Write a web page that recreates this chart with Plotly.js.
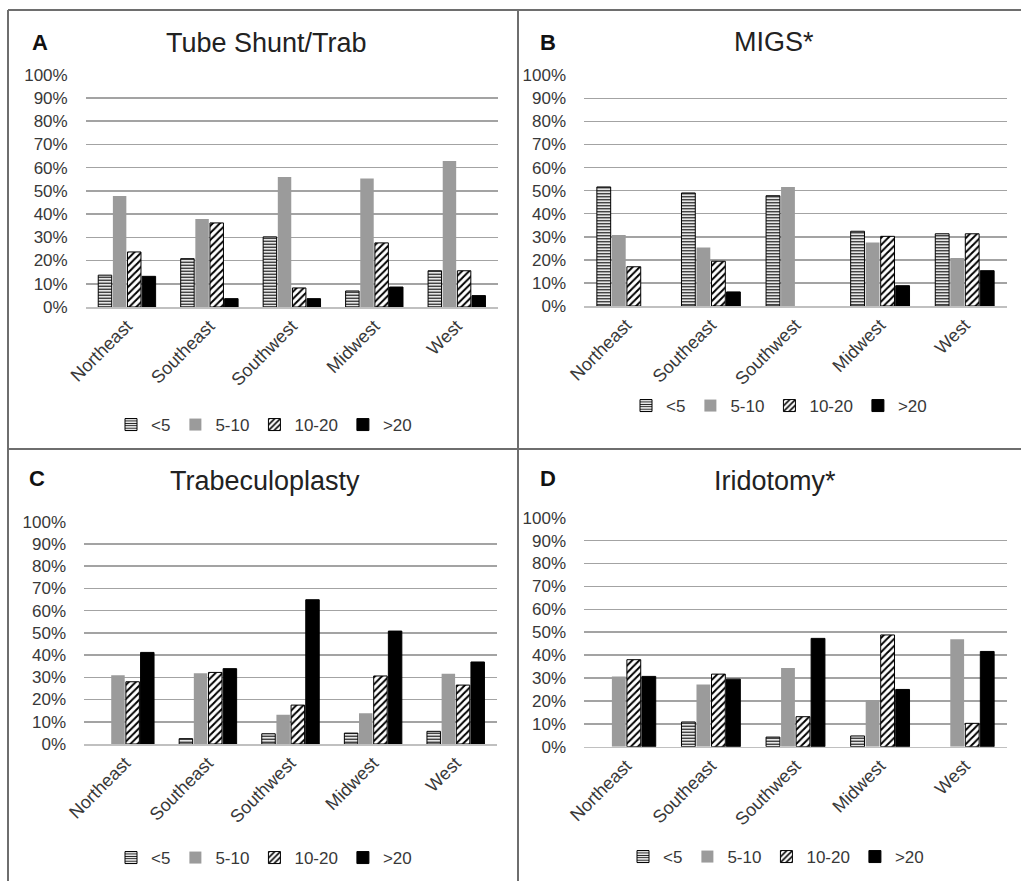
<!DOCTYPE html>
<html>
<head>
<meta charset="utf-8">
<script src="https://cdn.plot.ly/plotly-3.0.1.min.js"></script>
<style>html,body{margin:0;padding:0;background:#fff;}#chart{width:1021px;height:881px;}</style>
</head>
<body>
<div id="chart"></div>
<script>
// ---- data ----
var regions = ['Northeast', 'Southeast', 'Southwest', 'Midwest', 'West'];
var groupNames = ['<5', '5-10', '10-20', '>20'];
var yTickVals = [0, 10, 20, 30, 40, 50, 60, 70, 80, 90, 100];
var yTickLabels = ['0%', '10%', '20%', '30%', '40%', '50%', '60%', '70%', '80%', '90%', '100%'];

var panelTitles = ['Tube Shunt/Trab', 'MIGS*', 'Trabeculoplasty', 'Iridotomy*'];
var panelLetters = ['A', 'B', 'C', 'D'];

var tubeLt5    = [13.7, 20.8, 30.2, 6.9, 15.6];
var tube5to10  = [47.8, 37.9, 56.0, 55.3, 62.8];
var tube10to20 = [23.7, 36.2, 8.2, 27.6, 15.6];
var tubeGt20   = [13.2, 3.6, 3.6, 8.6, 4.9];

var migsLt5    = [51.6, 49.0, 47.8, 32.4, 31.3];
var migs5to10  = [30.8, 25.4, 51.6, 27.5, 20.8];
var migs10to20 = [17.0, 19.4, null, 30.2, 31.3];
var migsGt20   = [null, 6.1, null, 8.8, 15.3];

var trabLt5    = [null, 2.4, 4.6, 4.9, 5.7];
var trab5to10  = [30.9, 31.8, 13.2, 13.8, 31.6];
var trab10to20 = [28.0, 32.2, 17.5, 30.6, 26.5];
var trabGt20   = [41.2, 33.9, 64.9, 50.8, 36.9];

var iridLt5    = [null, 10.8, 4.2, 4.7, null];
var irid5to10  = [30.7, 27.2, 34.4, 20.4, 46.9];
var irid10to20 = [38.0, 31.7, 13.1, 48.8, 10.2];
var iridGt20   = [30.7, 29.5, 47.3, 25.0, 41.6];

var panelData = [
  [tubeLt5, tube5to10, tube10to20, tubeGt20],
  [migsLt5, migs5to10, migs10to20, migsGt20],
  [trabLt5, trab5to10, trab10to20, trabGt20],
  [iridLt5, irid5to10, irid10to20, iridGt20]
];

// ---- styling / layout ----
var W = 1021, H = 881;
function px(x) { return x / W; }
function py(y) { return 1 - y / H; }
var FONT = 'Liberation Sans, Arial, sans-serif';
var TXT = '#383838';

var styles = [
  {color: '#ffffff', line: {color: '#000', width: 1}, pattern: {shape: '-', fgcolor: '#000', bgcolor: '#fff', size: 3, solidity: 0.4}},
  {color: '#9b9b9b', line: {color: '#9b9b9b', width: 0}},
  {color: '#ffffff', line: {color: '#000', width: 1}, pattern: {shape: '/', fgcolor: '#000', bgcolor: '#fff', size: 5, solidity: 0.4}},
  {color: '#000000', line: {color: '#000', width: 1}}
];

// plot areas in pixels: [x0, x1, yBottom(0%), yTop(100%)]
var areas = [
  [85.7, 498, 307, 74.7],
  [584, 1007, 306, 75.3],
  [84, 497, 744, 521.7],
  [584, 1007, 746.7, 517.7]
];
var legendPos = [[264, 425], [779, 406], [264, 858], [776, 857]];
var titlePos = [[266, 43], [774, 42], [265, 481], [775, 481]];
var letterPos = [[40, 42], [548, 42], [37, 479], [548, 479]];

var traces = [];
var layout = {
  width: W, height: H,
  margin: {l: 0, r: 0, t: 0, b: 0},
  paper_bgcolor: '#fff', plot_bgcolor: '#fff',
  font: {family: FONT, size: 17, color: TXT},
  barmode: 'group', bargap: 0.29, bargroupgap: 0.08,
  showlegend: true,
  annotations: [], shapes: []
};

for (var p = 0; p < 4; p++) {
  var sfx = p === 0 ? '' : String(p + 1);
  var xa = 'x' + sfx, ya = 'y' + sfx;
  var lg = 'legend' + sfx;
  for (var g = 0; g < 4; g++) {
    var st = styles[g];
    var marker = {color: st.color, line: st.line};
    if (st.pattern) marker.pattern = st.pattern;
    traces.push({
      type: 'bar', x: regions, y: panelData[p][g], name: groupNames[g],
      xaxis: xa, yaxis: ya, legend: lg, marker: marker, hoverinfo: 'skip'
    });
  }
  var a = areas[p];
  layout['xaxis' + sfx] = {
    domain: [px(a[0]), px(a[1])], anchor: ya,
    tickangle: -45, showgrid: false, showline: true, linecolor: '#c0c0c0', linewidth: 1.5,
    ticks: '', tickfont: {family: FONT, size: 18, color: TXT}, fixedrange: true
  };
  layout['yaxis' + sfx] = {
    domain: [py(a[2]), py(a[3])], anchor: xa,
    range: [0, 100], tickmode: 'array', tickvals: yTickVals, ticktext: yTickLabels,
    showgrid: true, gridcolor: '#a3a3a3', gridwidth: 1.5, zeroline: false, showline: false,
    ticklabelstandoff: 17, tickfont: {family: FONT, size: 17, color: TXT}, fixedrange: true
  };
  layout[lg] = {
    orientation: 'h', x: px(legendPos[p][0]), y: py(legendPos[p][1]),
    xanchor: 'center', yanchor: 'middle', xref: 'paper', yref: 'paper',
    font: {family: FONT, size: 17, color: TXT}, bgcolor: 'rgba(0,0,0,0)',
    itemwidth: 30, tracegroupgap: 0, itemclick: false, itemdoubleclick: false
  };
  layout.annotations.push({
    text: panelTitles[p], xref: 'paper', yref: 'paper', x: px(titlePos[p][0]), y: py(titlePos[p][1]),
    xanchor: 'center', yanchor: 'middle', showarrow: false,
    font: {family: FONT, size: 27, color: '#222'}
  });
  layout.annotations.push({
    text: '<b>' + panelLetters[p] + '</b>', xref: 'paper', yref: 'paper', x: px(letterPos[p][0]), y: py(letterPos[p][1]),
    xanchor: 'center', yanchor: 'middle', showarrow: false,
    font: {family: FONT, size: 22, color: '#111'}
  });
}

var bc = '#6e6e6e';
function hline(x0, x1, y) { return {type: 'line', xref: 'paper', yref: 'paper', x0: px(x0), x1: px(x1), y0: py(y), y1: py(y), line: {color: bc, width: 2}}; }
function vline(x, y0, y1) { return {type: 'line', xref: 'paper', yref: 'paper', x0: px(x), x1: px(x), y0: py(y0), y1: py(y1), line: {color: bc, width: 2}}; }
layout.shapes.push(hline(8, 1021, 10));
layout.shapes.push(hline(8, 1021, 449));
layout.shapes.push(vline(8, 10, 881));
layout.shapes.push(vline(518, 10, 881));

Plotly.newPlot('chart', traces, layout, {displayModeBar: false, staticPlot: true});
</script>
</body>
</html>
